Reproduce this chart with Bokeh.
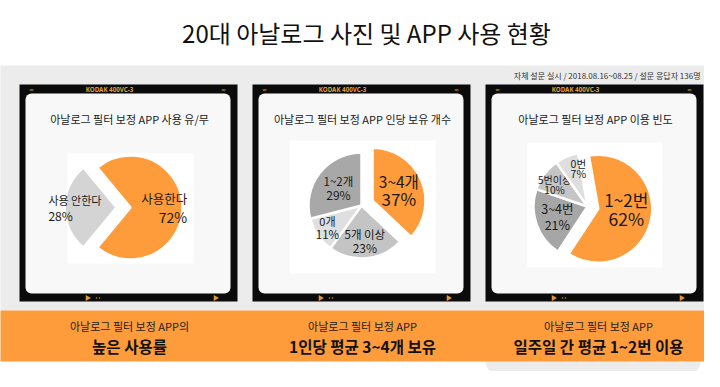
import numpy as np
from bokeh.plotting import figure
from bokeh.models import Range1d, BoxAnnotation
from bokeh.core.properties import value
from bokeh.embed import file_html
from bokeh.resources import INLINE

# ---------------- data ----------------
main_title = "20대 아날로그 사진 및 APP 사용 현황"
note_text = "자체 설문 실시 / 2018.08.16~08.25 / 설문 응답자 136명"
panel_titles = ["아날로그 필터 보정 APP 사용 유/무",
                "아날로그 필터 보정 APP 인당 보유 개수",
                "아날로그 필터 보정 APP 이용 빈도"]

pie1_labels = ["사용한다", "사용 안한다"]
pie1_values = [72, 28]
pie2_labels = ["3~4개", "5개 이상", "0개", "1~2개"]
pie2_values = [37, 23, 11, 29]
pie3_labels = ["1~2번", "3~4번", "5번이상", "0번"]
pie3_values = [62, 21, 10, 7]

band_line1 = ["아날로그 필터 보정 APP의", "아날로그 필터 보정 APP", "아날로그 필터 보정 APP"]
band_line2 = ["높은 사용률", "1인당 평균 3~4개 보유", "일주일 간 평균 1~2번 이용"]
film_label = "KODAK 400VC-3"

# ---------------- style / layout ----------------
FONT = value("Noto Sans CJK KR")
ORANGE = "#fe9b3b"
W, H = 704, 371


def Y(py):
    return H - py


p = figure(width=W, height=H, x_range=Range1d(0, W), y_range=Range1d(0, H),
           output_backend="svg", toolbar_location=None, min_border=0,
           x_axis_location=None, y_axis_location=None,
           background_fill_color="white", border_fill_color="white",
           outline_line_color=None)
p.grid.visible = False


def box(l, r, t, b, color, radius=0):
    p.add_layout(BoxAnnotation(left=l, right=r, top=Y(t), bottom=Y(b),
                               fill_color=color, fill_alpha=1, line_color=None,
                               border_radius=radius, level="underlay",
                               propagate_hover=False))


# background areas
box(-5, 730, 65, 310, "#ececec")
box(485, 700, 355, 372, "#ececec", (0, 0, 10, 10))
box(-5, 730, 310, 361, ORANGE)

frame_lefts = [19, 252, 485]
frame_w = 218
squares = [(67, 193, 153, 263), (289, 435, 140, 273), (527, 662, 142, 267)]
for fl, sq in zip(frame_lefts, squares):
    box(fl, fl + frame_w, 84, 301, "#0b0b0b")
    box(fl + 6, fl + frame_w - 7, 93, 293, "#f8f8f8", 6)
    box(sq[0], sq[1], sq[2], sq[3], "#ffffff")

# film decorations
p.text(x=[fl + 90 for fl in frame_lefts], y=[Y(89)] * 3, text=[film_label] * 3,
       text_font=value("Noto Sans"), text_font_style="bold", text_font_size="6.2px",
       text_color="#e0a23c", text_align="center", text_baseline="middle")
p.text(x=[fl + 12 for fl in frame_lefts] + [fl + frame_w - 14 for fl in frame_lefts],
       y=[Y(89)] * 6, text=["≈"] * 6, text_font=value("DejaVu Sans"),
       text_font_size="6px", text_color="#d99a3a", text_align="center",
       text_baseline="middle")
p.scatter(x=[fl + 68 for fl in frame_lefts] + [fl + frame_w - 22 for fl in frame_lefts],
          y=[Y(297.5)] * 6, marker="triangle", angle=-np.pi / 2, size=6,
          fill_color="#e8962e", line_color=None)
p.scatter(x=[fl + 77 for fl in frame_lefts] + [fl + 80 for fl in frame_lefts],
          y=[Y(297.5)] * 6, marker="circle", size=1.6,
          fill_color="#c98a30", line_color=None)

# titles
p.text(x=[366], y=[Y(32)], text=[main_title], text_font=FONT, text_font_size="24px",
       text_color="#111111", text_align="center", text_baseline="middle")
p.text(x=[700], y=[Y(75)], text=[note_text], text_font=FONT, text_font_size="8px",
       text_color="#333333", text_align="right", text_baseline="middle")
p.text(x=[fl + frame_w / 2 + 1 for fl in frame_lefts], y=[Y(118)] * 3, text=panel_titles,
       text_font=FONT, text_font_size="11px", text_color="#1a1a1a",
       text_align="center", text_baseline="middle")

# band texts
band_x = [129, 362, 598]
p.text(x=band_x, y=[Y(325.5)] * 3, text=band_line1, text_font=FONT,
       text_font_size="11px", text_color="#222222", text_align="center",
       text_baseline="middle")
p.text(x=band_x, y=[Y(345)] * 3, text=band_line2, text_font=FONT,
       text_font_size="15.5px", text_font_style="bold", text_color="#111111",
       text_align="center", text_baseline="middle")


def draw_pie(cx, cy, r, values, labels, colors, start_deg, explode, fracs,
             name_sizes, pct_sizes, gaps, aligns, nudges):
    vals = np.asarray(values, dtype=float)
    share = vals / vals.sum()
    edges = start_deg - np.concatenate([[0.0], np.cumsum(share) * 360.0])
    for i in range(len(vals)):
        a0, a1 = edges[i], edges[i + 1]
        mid = np.radians((a0 + a1) / 2)
        x0 = cx + explode[i] * np.cos(mid)
        y0 = Y(cy) + explode[i] * np.sin(mid)
        p.wedge(x=[x0], y=[y0], radius=r, start_angle=np.radians(a1),
                end_angle=np.radians(a0), fill_color=colors[i],
                line_color="white", line_width=2.5)
        lx = x0 + fracs[i] * r * np.cos(mid) + nudges[i][0]
        ly = y0 + fracs[i] * r * np.sin(mid) - nudges[i][1]
        p.text(x=[lx], y=[ly + gaps[i] / 2], text=[labels[i]], text_font=FONT,
               text_font_size=name_sizes[i], text_color="#1a1a1a",
               text_align=aligns[i], text_baseline="middle")
        p.text(x=[lx], y=[ly - gaps[i] / 2], text=[f"{values[i]}%"], text_font=FONT,
               text_font_size=pct_sizes[i], text_color="#1a1a1a",
               text_align=aligns[i], text_baseline="middle")


draw_pie(116, 207, 52, pie1_values, pie1_labels, [ORANGE, "#d4d4d4"],
         129.6, [14, 0], [1.09, 1.31],
         ["12.5px", "11px"], ["14px", "12px"], [19, 15], ["right", "left"],
         [(0, 0), (0, 0)])
draw_pie(361, 205, 53, pie2_values, pie2_labels,
         [ORANGE, "#c4c4c4", "#dfdfdf", "#a8a8a8"],
         90, [12, 0, 0, 0], [0.52, 0.67, 0.8, 0.55],
         ["15.5px", "11.5px", "11px", "11.5px"], ["17px", "12px", "11.5px", "12px"],
         [17, 13, 13, 14], ["center"] * 4, [(1, 0), (0, 0), (1, -2), (0, 0)])
draw_pie(587, 206, 54, pie3_values, pie3_labels,
         [ORANGE, "#a6a6a6", "#c5c5c5", "#dedede"],
         100, [11, 0, 0, 0], [0.53, 0.59, 0.74, 0.73],
         ["17px", "12.5px", "10px", "10.5px"], ["17.5px", "12.5px", "10px", "10.5px"],
         [19, 16, 10, 10], ["center"] * 4, [(0, -5), (0, 0), (-1, 2), (6, -2)])

open("out.html", "w").write(file_html(p, INLINE))
